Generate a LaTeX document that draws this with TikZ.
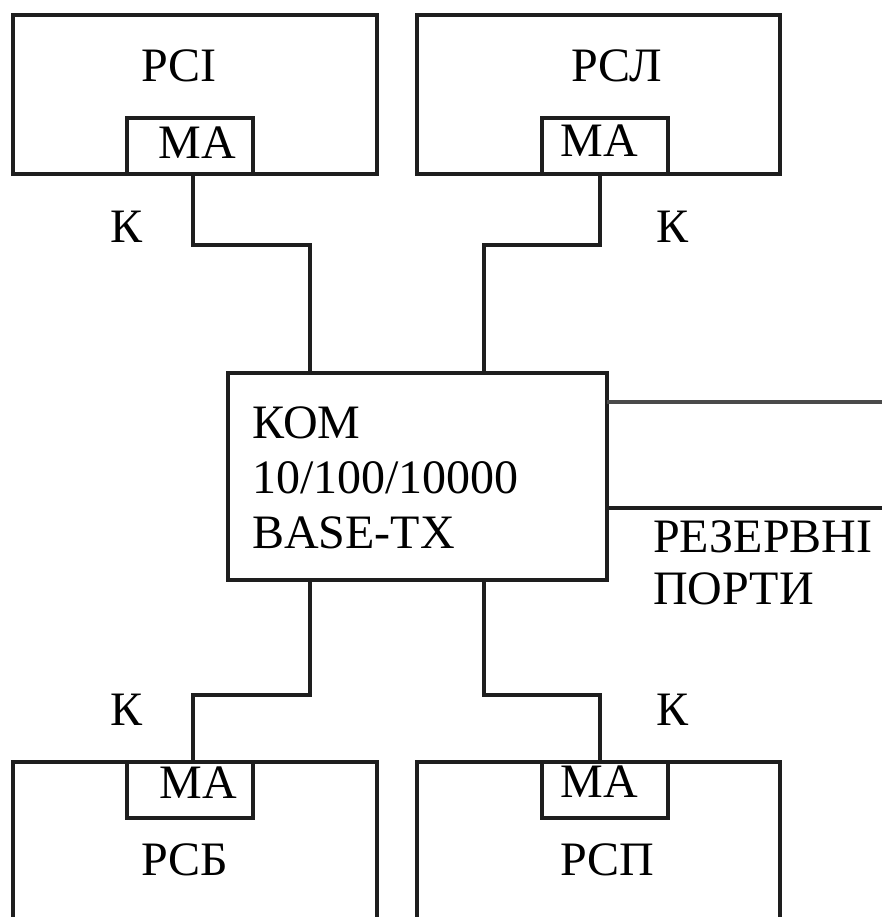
\documentclass[tikz,border=0pt]{standalone}
\usepackage{fontspec}
\setmainfont{Liberation Serif}
\definecolor{linec}{HTML}{1E1E1E}
\definecolor{portc}{HTML}{4A4A4A}
\begin{document}
\begin{tikzpicture}[x=1pt,y=-1pt,
  box/.style={draw=linec, line width=3.2pt, rectangle, inner sep=0pt, outer sep=0pt},
  wire/.style={draw=linec, line width=3.2pt},
  portline/.style={draw=portc, line width=3.8pt},
  lbl/.style={font=\fontsize{48}{55}\selectfont, inner sep=0pt, text=black}]
\useasboundingbox (0,0) rectangle (882,917);
\clip (0,0) rectangle (882,917);
\fill[white] (0,0) rectangle (882,917);

% workstations
\node[box, minimum width=364, minimum height=159] (pci) at (195,94.5) {};
\node[box, minimum width=363, minimum height=159] (pcl) at (598.5,94.5) {};
\node[box, minimum width=364, minimum height=200] (pcb) at (195,862) {};
\node[box, minimum width=363, minimum height=200] (pcp) at (598.5,862) {};

% network adapters
\node[box, minimum width=126, minimum height=56] (ma1) at (190,146) {};
\node[box, minimum width=126, minimum height=56] (ma2) at (605,146) {};
\node[box, minimum width=126, minimum height=56] (ma3) at (190,790) {};
\node[box, minimum width=126, minimum height=56] (ma4) at (605,790) {};

% switch
\node[box, minimum width=379, minimum height=207] (kom) at (417.5,476.5) {};

% connector bends
\coordinate (j1) at (310,245);
\coordinate (j2) at (484,245);
\coordinate (j3) at (310,695);
\coordinate (j4) at (484,695);
\coordinate (p1) at (882,402);
\coordinate (p2) at (882,508);

\draw[wire] ([xshift=3pt]ma1.south) |- (j1) -- (j1 |- kom.north);
\draw[wire] ([xshift=-5pt]ma2.south) |- (j2) -- (j2 |- kom.north);
\draw[wire] (j3 |- kom.south) -- (j3) -| ([xshift=3pt]ma3.north);
\draw[wire] (j4 |- kom.south) -- (j4) -| ([xshift=-5pt]ma4.north);
\draw[portline] (kom.east |- p1) -- (p1);
\draw[wire] (kom.east |- p2) -- (p2);

% texts
\node[lbl] (tpci) at (179,66) {РСІ};
\node[lbl] (tpcl) at (617,66) {РСЛ};
\node[lbl] (tpcb) at (185,860) {РСБ};
\node[lbl] (tpcp) at (607,860) {РСП};
\node[lbl] (tma1) at (197,143) {МА};
\node[lbl] (tma2) at (599,141) {МА};
\node[lbl] (tma3) at (198,783) {МА};
\node[lbl] (tma4) at (599,782) {МА};
\node[lbl] (k1) at (127,227) {К};
\node[lbl] (k2) at (672,227) {К};
\node[lbl] (k3) at (127,710) {К};
\node[lbl] (k4) at (672,710) {К};
\node[lbl, align=left, anchor=north west] (tkom) at (252,407) {КОМ\\10/100/10000\\BASE-TX};
\node[lbl, font=\fontsize{48}{52}\selectfont, align=left, anchor=north west] (tres) at (653,520) {РЕЗЕРВНІ\\ПОРТИ};
\end{tikzpicture}
\end{document}
